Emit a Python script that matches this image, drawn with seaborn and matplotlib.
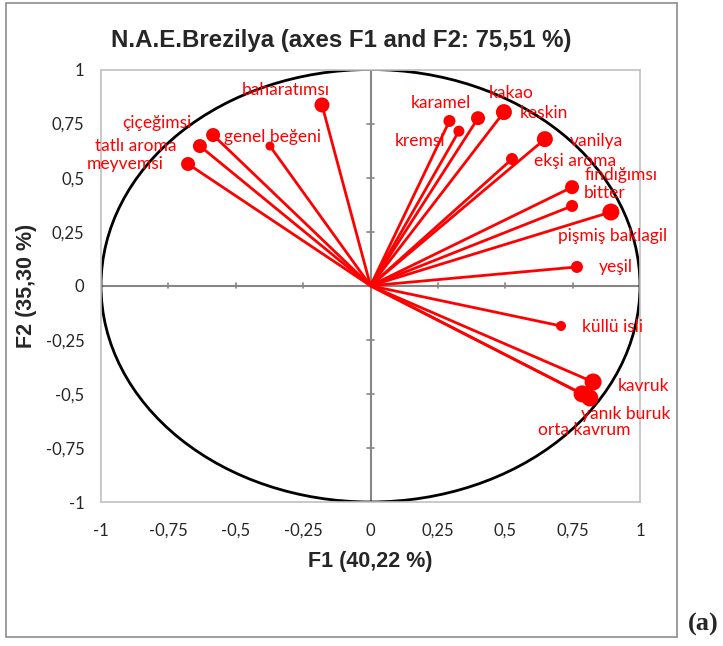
import matplotlib.pyplot as plt
import numpy as np
import pandas as pd
import seaborn as sns
from matplotlib.patches import Ellipse, Rectangle

# variables on the correlation circle (F1, F2) and their bubble weight
names = ['baharatımsı', 'çiçeğimsi', 'tatlı aroma', 'meyvemsi', 'genel beğeni',
         'karamel', 'kremsi', 'kakao', 'keskin', 'vanilya', 'ekşi aroma',
         'fındığımsı', 'bitter', 'pişmiş baklagil', 'yeşil', 'küllü isli',
         'kavruk', 'yanık buruk', 'orta kavrum']
f1 = [-0.180, -0.584, -0.633, -0.677, -0.373,
      0.293, 0.328, 0.399, 0.495, 0.647, 0.525,
      0.748, 0.748, 0.892, 0.766, 0.707,
      0.826, 0.814, 0.785]
f2 = [0.836, 0.697, 0.646, 0.563, 0.646,
      0.762, 0.715, 0.775, 0.803, 0.678, 0.586,
      0.456, 0.369, 0.341, 0.087, -0.186,
      -0.445, -0.519, -0.500]
weight = [15, 14, 14, 14, 9,
          12, 11, 14, 16, 16, 12,
          14, 12, 17, 12, 10,
          17, 17, 17]
ticks = [-1, -0.75, -0.5, -0.25, 0, 0.25, 0.5, 0.75, 1]
tick_labels = ['-1', '-0,75', '-0,5', '-0,25', '0', '0,25', '0,5', '0,75', '1']

# label offsets in pixels (dx, dy, ha)
offsets = {
    'baharatımsı': (8, 15, 'right'), 'çiçeğimsi': (-22, 12, 'right'),
    'tatlı aroma': (-23, 0, 'right'), 'meyvemsi': (-24, 0, 'right'),
    'genel beğeni': (3, 9, 'center'), 'karamel': (-9, 18, 'center'),
    'kremsi': (-14, -10, 'right'), 'kakao': (33, 25, 'center'),
    'keskin': (16, -1, 'left'), 'vanilya': (25, -2, 'left'),
    'ekşi aroma': (22, -2, 'left'), 'fındığımsı': (13, 12, 'left'),
    'bitter': (12, 13, 'left'), 'pişmiş baklagil': (2, -24, 'center'),
    'yeşil': (22, 0, 'left'), 'küllü isli': (21, -1, 'left'),
    'kavruk': (25, -4, 'left'), 'yanık buruk': (-9, -16, 'left'),
    'orta kavrum': (2, -36, 'center'),
}

df = pd.DataFrame({'name': names, 'F1': f1, 'F2': f2, 'w': weight})
df['s'] = (df['w'] * 0.72) ** 2

sns.set_style('white')
plt.rcParams['font.family'] = ['Lato', 'DejaVu Sans']
narrow = ['Liberation Sans Narrow', 'Liberation Sans', 'DejaVu Sans']

fig = plt.figure(figsize=(7.23, 6.46), dpi=100)
ax = fig.add_axes([0.1397, 0.2229, 0.7455, 0.6695])

ax.axhline(0, color='#868686', lw=1.5, zorder=1)
ax.axvline(0, color='#868686', lw=1.5, zorder=1)
ax.add_patch(Ellipse((0, 0), 2, 2, fill=False, ec='black', lw=2, zorder=2))

for _, r in df.iterrows():
    ax.plot([0, r['F1']], [0, r['F2']], color='#ff0000', lw=2, zorder=3)
sns.scatterplot(data=df, x='F1', y='F2', s=df['s'], color='#ff0000',
                edgecolor='none', legend=False, ax=ax, zorder=4)

for _, r in df.iterrows():
    dx, dy, ha = offsets[r['name']]
    ax.annotate(r['name'], (r['F1'], r['F2']), xytext=(dx, dy),
                textcoords='offset pixels', ha=ha, va='center',
                color='#ff0000', fontsize=12.5, zorder=5)

# small tick marks along the zero axes
for t in ticks:
    if t != 0:
        ax.plot([-0.012, 0.012], [t, t], color='#868686', lw=1.2, zorder=1)
        ax.plot([t, t], [-0.012, 0.012], color='#868686', lw=1.2, zorder=1)

ax.set_xlim(-1, 1)
ax.set_ylim(-1, 1)
ax.set_xticks(ticks)
ax.set_yticks(ticks)
ax.set_xticklabels(tick_labels, fontsize=12)
ax.set_yticklabels(tick_labels, fontsize=12)
ax.tick_params(length=0)
ax.tick_params(axis='x', pad=15)
ax.tick_params(axis='y', pad=12)
for sp in ax.spines.values():
    sp.set_color('#c0c0c0')
    sp.set_linewidth(1.2)

ax.set_xlabel('F1 (40,22 %)', fontsize=15.5, fontweight='bold', family=narrow, labelpad=9)
ax.set_ylabel('F2 (35,30 %)', fontsize=15.5, fontweight='bold', family=narrow, labelpad=6)
fig.text(0.472, 0.938, 'N.A.E.Brezilya (axes F1 and F2: 75,51 %)', ha='center', va='center',
         fontsize=17.3, fontweight='bold', family=narrow)

fig.patches.append(Rectangle((6 / 723, 1 - 637 / 646), 671 / 723, 634 / 646,
                             transform=fig.transFigure, fill=False, ec='#8c8c8c', lw=1.2))
fig.text(0.951, 0.033, '(a)', fontsize=19, fontweight='bold',
         family=['Liberation Serif', 'DejaVu Serif'], va='center')

fig.savefig('out.png', dpi=100)
